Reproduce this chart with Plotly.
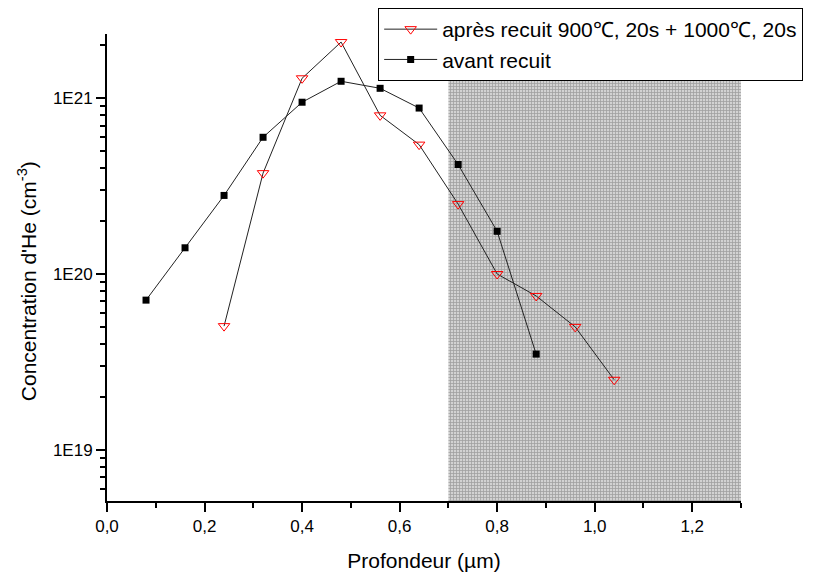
import plotly.graph_objects as go

# Data
depth_avant = [0.08, 0.16, 0.24, 0.32, 0.40, 0.48, 0.56, 0.64, 0.72, 0.80, 0.88]
conc_avant = [7.1e19, 1.41e20, 2.8e20, 6.0e20, 9.5e20, 1.25e21, 1.14e21, 8.8e20, 4.2e20, 1.75e20, 3.5e19]

depth_apres = [0.24, 0.32, 0.40, 0.48, 0.56, 0.64, 0.72, 0.80, 0.88, 0.96, 1.04]
conc_apres = [5.05e19, 3.75e20, 1.30e21, 2.09e21, 8.0e20, 5.45e20, 2.5e20, 1.0e20, 7.5e19, 5.0e19, 2.5e19]

shade_x = [0.7, 1.3]
shade_y = [5.1e18, 1.54e21]

y_tickvals = [1e19, 1e20, 1e21]
y_ticktext = ["1E19", "1E20", "1E21"]
y_minor = [float(m) * 10.0 ** e for e in (18, 19, 20, 21) for m in range(2, 10)]

FONT = "Liberation Sans, Arial, sans-serif"

fig = go.Figure()

fig.add_trace(go.Scatter(
    x=[shade_x[0], shade_x[1], shade_x[1], shade_x[0], shade_x[0]],
    y=[shade_y[0], shade_y[0], shade_y[1], shade_y[1], shade_y[0]],
    mode="lines", line=dict(width=0), fill="toself",
    fillcolor="#bcbcbc",
    fillpattern=dict(shape="+", size=3, solidity=0.45, fgcolor="#6e6e6e", bgcolor="#d2d2d2"),
    showlegend=False, hoverinfo="skip",
))

fig.add_trace(go.Scatter(
    x=depth_apres, y=conc_apres, mode="lines+markers",
    name="après recuit 900℃, 20s + 1000℃, 20s",
    line=dict(color="#222222", width=1),
    marker=dict(symbol="triangle-down-open", size=10, color="#ff0000", line=dict(width=1)),
))

fig.add_trace(go.Scatter(
    x=depth_avant, y=conc_avant, mode="lines+markers",
    name="avant recuit",
    line=dict(color="#222222", width=1),
    marker=dict(symbol="square", size=7, color="#000000"),
))

# The page body adds an 8px margin, so the figure is sized to fit the window.
fig.update_layout(
    width=810, height=566,
    margin=dict(l=99, r=77, t=26, b=73, autoexpand=False),
    paper_bgcolor="white", plot_bgcolor="white",
    font=dict(family=FONT, color="black", size=17),
    separators=", ",
    showlegend=True,
    legend=dict(
        xref="container", yref="container",
        x=0.457, y=1.0, xanchor="left", yanchor="top",
        bordercolor="black", borderwidth=1, bgcolor="white",
        font=dict(family=FONT, size=21),
        tracegroupgap=0, itemwidth=53,
    ),
    xaxis=dict(
        range=[0, 1.3], tickvals=[0, 0.2, 0.4, 0.6, 0.8, 1.0, 1.2], tickformat=".1f",
        ticks="outside", ticklen=9, tickwidth=1.5, tickcolor="black",
        showline=True, linecolor="black", linewidth=2, showgrid=False, zeroline=False,
        minor=dict(tickvals=[0.1, 0.3, 0.5, 0.7, 0.9, 1.1, 1.3], ticks="outside", ticklen=5,
                   tickwidth=1.5, tickcolor="black", showgrid=False),
        title=dict(text="Profondeur (µm)", font=dict(size=21), standoff=18),
        tickfont=dict(size=17), automargin=True,
    ),
    yaxis=dict(
        type="log", range=[18.708, 21.366],
        tickvals=y_tickvals, ticktext=y_ticktext,
        ticks="outside", ticklen=9, tickwidth=1.5, tickcolor="black",
        showline=True, linecolor="black", linewidth=2, showgrid=False, zeroline=False,
        minor=dict(tickvals=y_minor, ticks="outside", ticklen=5, tickwidth=1.5,
                   tickcolor="black", showgrid=False),
        tickfont=dict(size=17), automargin=True,
    ),
    annotations=[dict(
        text="Concentration d'He (cm<sup>-3</sup>)",
        xref="paper", yref="paper", x=-0.126, y=0.471,
        xanchor="center", yanchor="middle", textangle=-90,
        showarrow=False, font=dict(family=FONT, size=21, color="black"),
    )],
)

fig.write_html("out.html")
